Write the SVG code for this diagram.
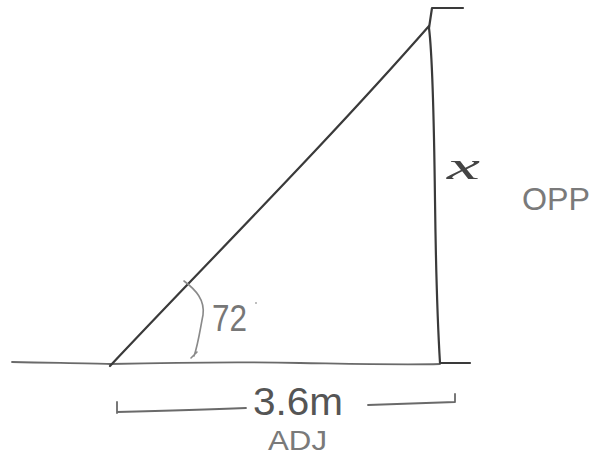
<svg xmlns="http://www.w3.org/2000/svg" width="599" height="457" viewBox="0 0 599 457">
<style>
.ln{fill:none;stroke-linecap:round;stroke-linejoin:round}
.dark{stroke:#3a3a3a;stroke-width:2.2}
.mid{stroke:#6a6a6a;stroke-width:1.8}
.lt{stroke:#8a8a8a;stroke-width:1.6}
.t{font-family:"Liberation Sans",Arial,sans-serif}
.s{font-family:"Liberation Serif","Times New Roman",serif}
</style>
<rect width="599" height="457" fill="#ffffff"/>
<g id="ground">
<path class="ln mid" d="M12,362 C60,363 90,363 110,364 C200,362 250,362 300,363 C360,364 400,365 440,364"/>
</g>
<g id="wall">
<path class="ln dark" d="M463,8 L432,8 L429,28 C433,60 434,120 435,200 C436,280 438,330 440,363 L470,363"/>
</g>
<g id="hypotenuse">
<path class="ln dark" d="M110,366 C200,270 320,150 429,26"/>
</g>
<g id="angle">
<path class="ln lt" d="M184,281 C196,290 205,300 203,315 C200,330 198,345 194,356 M191,358 L197,352"/>
<text class="t" x="212" y="331" font-size="36" fill="#777" textLength="35" lengthAdjust="spacingAndGlyphs">72</text>
<circle cx="256" cy="303" r="1" fill="#aaa"/>
</g>
<g id="labels">
<text class="s" x="447" y="179" font-size="38" font-style="italic" fill="#444" textLength="33" lengthAdjust="spacingAndGlyphs">x</text>
<text class="t" x="522" y="210" font-size="31" fill="#7a7a7a" textLength="68" lengthAdjust="spacingAndGlyphs">OPP</text>
</g>
<g id="dimension">
<path class="ln mid" d="M117,402 L117,413 M117,412 C160,411 200,410 246,408 M368,405 C400,404 430,403 455,402 L455,394"/>
<text class="t" x="253" y="415" font-size="38" fill="#555" textLength="90" lengthAdjust="spacingAndGlyphs">3.6m</text>
<text class="t" x="268" y="450" font-size="28" fill="#7a7a7a" textLength="59" lengthAdjust="spacingAndGlyphs">ADJ</text>
</g>
</svg>
